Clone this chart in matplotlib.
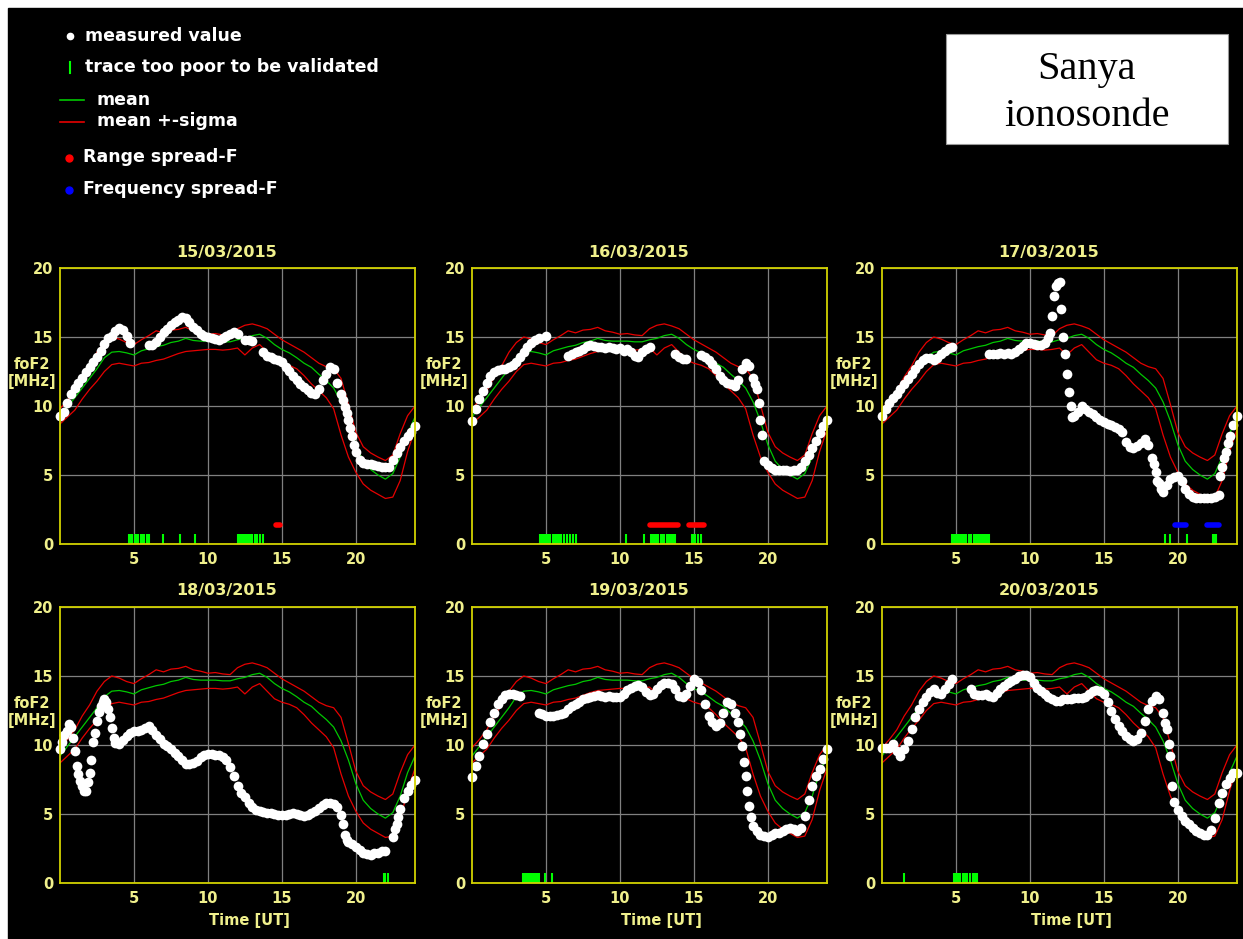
"""
foF2 daily plots for the Sanya ionosonde, 15-20 March 2015.
"""
import numpy as np
import matplotlib
matplotlib.use('Agg')
import matplotlib.pyplot as plt
from matplotlib.patches import Rectangle

nan = np.nan
W, H = 1243, 939

days = ['15/03/2015', '16/03/2015', '17/03/2015',
        '18/03/2015', '19/03/2015', '20/03/2015']

# half-hourly monthly reference (mean and mean +- sigma), MHz
ref_hours = np.arange(0, 24.01, 0.5)
foF2_mean = [9.2, 9.9, 10.6, 11.3, 12.0, 12.7, 13.5, 13.9, 13.95, 13.85,
             13.7, 14.0, 14.15, 14.3, 14.4, 14.6, 14.7, 14.9, 14.75, 14.7,
             14.7, 14.7, 14.65, 14.65, 14.8, 14.9, 15.1, 15.2, 14.9, 14.45,
             14.1, 13.85, 13.5, 13.1, 12.8, 12.3, 11.85, 11.3, 10.3, 8.9,
             7.2, 6.0, 5.4, 5.0, 4.7, 5.1, 6.3, 8.0, 9.2]
foF2_upper = [9.8, 10.4, 11.1, 12.1, 12.9, 13.9, 14.6, 15.0, 14.85, 14.6,
              14.45, 14.8, 15.1, 15.45, 15.3, 15.5, 15.55, 15.7, 15.45, 15.35,
              15.2, 15.25, 15.15, 15.1, 15.6, 15.85, 15.95, 15.8, 15.6, 15.2,
              14.8, 14.5, 14.2, 13.9, 13.5, 13.1, 12.85, 12.7, 12.0, 10.1,
              8.1, 7.05, 6.6, 6.3, 6.05, 6.45, 8.0, 9.3, 10.0]
foF2_lower = [8.7, 9.2, 9.7, 10.5, 11.2, 11.8, 12.5, 13.0, 13.1, 13.0,
              12.9, 13.1, 13.15, 13.3, 13.4, 13.6, 13.8, 13.95, 14.0, 14.05,
              14.1, 14.1, 14.05, 14.1, 14.2, 13.7, 14.2, 14.45, 13.9, 13.35,
              13.1, 12.95, 12.7, 12.2, 11.6, 11.1, 10.6, 9.8, 7.9, 6.3,
              5.2, 4.35, 3.9, 3.6, 3.3, 3.4, 4.6, 6.7, 8.3]

# measured foF2 every 15 min, 00:00 .. 24:00 UT
hours = np.arange(0, 24.01, 0.25)
fof2_15 = [9.3, 9.6, 10.2, 10.85, 11.3, 11.7, 12.05, 12.45,
           12.8, 13.2, 13.55, 14.0, 14.5, 14.9, 15.1, 15.4,
           15.65, 15.5, 15.1, 14.6, nan, nan, nan, nan,
           14.4, 14.4, 14.65, 15.0, 15.35, 15.6, 15.85, 16.1,
           16.2, 16.45, 16.35, 16.1, 15.75, 15.5, 15.25, 15.1,
           15.0, 14.9, 14.85, 14.75, 14.9, 15.05, 15.25, 15.35,
           15.25, nan, 14.75, 14.75, 14.7, nan, nan, 13.9,
           13.65, 13.55, 13.4, 13.3, 13.2, 12.8, 12.55, 12.2,
           11.85, 11.6, 11.35, 11.15, 10.95, 10.85, 11.2, 11.85,
           12.3, 12.8, 12.7, 11.7, 10.85, 9.9, 9.0, 7.8,
           6.7, 6.1, 5.85, 5.8, 5.8, 5.75, 5.65, 5.6,
           5.55, 5.6, 6.1, 6.6, 7.05, 7.45, 7.8, 8.15,
           8.55]
fof2_16 = [8.9, 9.75, 10.5, 11.1, 11.7, 12.15, 12.45, 12.6,
           12.7, 12.7, 12.8, 13.0, 13.2, 13.55, 13.9, 14.25,
           14.6, 14.75, 14.9, nan, 15.1, nan, nan, nan,
           nan, nan, 13.65, 13.8, 13.9, 14.0, 14.15, 14.35,
           14.45, 14.35, 14.25, 14.25, 14.2, 14.25, 14.2, 14.15,
           14.2, 14.0, 14.1, 13.9, 13.65, 13.55, 13.9, 14.15,
           14.25, nan, nan, nan, nan, nan, nan, 13.8,
           13.55, 13.4, 13.4, nan, nan, nan, 13.7, 13.55,
           13.3, 13.05, 12.7, 12.2, 11.85, 11.7, 11.6, 11.45,
           11.85, 12.7, 13.1, 12.9, 12.05, 11.2, 9.0, 6.0,
           5.7, 5.5, 5.35, 5.35, 5.35, 5.35, 5.3, 5.35,
           5.35, 5.6, 6.0, 6.45, 6.95, 7.45, 8.05, 8.55,
           9.0]
fof2_17 = [9.3, 9.75, 10.2, 10.55, 10.85, 11.2, 11.6, 11.95,
           12.3, 12.65, 13.05, 13.35, 13.5, 13.5, 13.35, 13.5,
           13.75, 14.0, 14.2, 14.25, nan, nan, nan, nan,
           nan, nan, nan, nan, nan, 13.8, 13.8, 13.75,
           13.85, 13.75, 13.85, 13.8, 13.9, 14.1, 14.35, 14.55,
           14.6, 14.5, 14.4, 14.4, 14.55, 14.9, 16.5, 18.7,
           19.0, 15.0, 12.3, 10.0, 9.3, 9.6, 10.0, 9.8,
           9.6, 9.4, 9.2, 9.0, 8.85, 8.7, 8.6, 8.5,
           8.3, 8.1, 7.4, 7.0, 6.95, 7.1, 7.35, 7.6,
           7.2, 6.2, 5.2, 4.4, 3.8, 4.3, 4.7, 4.85,
           4.9, 4.6, 4.0, 3.6, 3.4, 3.35, 3.3, 3.3,
           3.3, 3.3, 3.4, 3.55, 5.6, 6.7, 7.8, 8.6,
           9.3]
fof2_18 = [9.7, 10.7, 11.05, 11.3, 9.6, 7.9, 7.05, 6.7,
           8.0, 10.2, 11.75, 12.8, 13.35, 12.6, 11.2, 10.15,
           10.05, 10.35, 10.65, 10.85, 11.0, 11.05, 11.1, 11.2,
           11.4, 11.1, 10.75, 10.4, 10.1, 9.9, 9.7, 9.45,
           9.2, 8.9, 8.65, 8.6, 8.7, 8.85, 9.1, 9.25,
           9.35, 9.35, 9.3, 9.25, 9.1, 8.9, 8.4, 7.75,
           7.05, 6.5, 6.2, 5.8, 5.5, 5.3, 5.2, 5.15,
           5.1, 5.05, 5.0, 4.95, 4.9, 4.95, 5.0, 5.05,
           5.0, 4.9, 4.85, 4.95, 5.05, 5.25, 5.45, 5.65,
           5.8, 5.8, 5.75, 5.5, 4.9, 3.5, 2.95, 2.8,
           2.6, 2.4, 2.2, 2.1, 2.05, 2.15, 2.2, 2.3,
           2.3, nan, 3.3, 4.3, 5.35, 6.15, 6.65, 7.1,
           7.5]
fof2_19 = [7.65, 8.5, 9.2, 10.05, 10.8, 11.65, 12.35, 12.95,
           13.35, 13.6, 13.7, 13.7, 13.6, 13.55, nan, nan,
           nan, nan, 12.35, 12.25, 12.1, 12.1, 12.1, 12.15,
           12.25, 12.35, 12.6, 12.8, 12.95, 13.15, 13.3, 13.4,
           13.45, 13.55, 13.6, 13.55, 13.5, 13.55, 13.5, 13.45,
           13.45, 13.7, 13.95, 14.1, 14.25, 14.35, 14.2, 13.85,
           13.6, 13.7, 14.05, 14.35, 14.5, 14.5, 14.4, 14.05,
           13.55, 13.45, 13.7, 14.3, 14.8, 14.55, 13.95, 12.95,
           12.1, 11.65, 11.4, 11.6, 12.35, 13.1, 12.95, 12.35,
           11.65, 9.95, 7.75, 5.6, 4.1, 3.75, 3.5, 3.4,
           3.3, 3.45, 3.65, 3.65, 3.75, 3.9, 4.0, 3.9,
           3.75, 4.0, 4.85, 6.05, 7.05, 7.75, 8.25, 8.95,
           9.7]
fof2_20 = [9.8, 9.75, 9.8, 10.05, 9.55, 9.2, 9.7, 10.3,
           11.15, 12.0, 12.6, 13.1, 13.45, 13.85, 14.05, 13.8,
           13.7, 14.05, 14.45, 14.75, nan, nan, nan, nan,
           14.05, 13.7, 13.6, 13.6, 13.7, 13.55, 13.5, 13.75,
           14.05, 14.3, 14.5, 14.65, 14.8, 15.0, 15.1, 15.05,
           14.9, 14.5, 14.15, 13.9, 13.7, 13.45, 13.3, 13.2,
           13.2, 13.3, 13.3, 13.35, 13.4, 13.4, 13.4, 13.45,
           13.7, 13.9, 14.0, 13.9, 13.7, 13.1, 12.45, 11.85,
           11.4, 11.0, 10.65, 10.4, 10.3, 10.4, 10.9, 11.75,
           12.6, 13.2, 13.55, 13.3, 12.35, 11.15, 9.2, 5.9,
           5.3, 4.85, 4.5, 4.25, 4.0, 3.8, 3.65, 3.5,
           3.45, 3.85, 4.7, 5.8, 6.55, 7.15, 7.6, 8.0,
           8.0]

# additional 7.5-min soundings during fast changes
extra_h = [
    [19.125, 19.375, 19.625, 19.875],
    [19.125, 19.375, 19.625],
    [11.375, 11.625, 11.875, 12.125, 12.375, 12.625, 12.875,
     18.375, 18.625, 18.875, 22.875, 23.125, 23.375],
    [0.125, 0.625, 0.875, 1.125, 1.375, 1.625, 1.875, 2.125, 2.375,
     2.625, 2.875, 3.125, 3.375, 3.625, 19.125, 19.375, 22.625, 22.875],
    [18.125, 18.375, 18.625, 18.875],
    [19.125, 19.375, 19.625],
]
extra_v = [
    [10.4, 9.5, 8.4, 7.2],
    [11.6, 10.2, 7.9],
    [15.3, 18.0, 18.9, 17.0, 13.8, 11.0, 9.2, 5.8, 4.6, 4.0, 4.9, 6.2, 7.3],
    [10.2, 11.55, 10.5, 8.5, 7.4, 6.7, 7.3, 8.9, 10.9, 12.4, 13.1, 13.1,
     12.0, 10.5, 4.3, 3.1, 3.9, 4.8],
    [10.8, 8.8, 6.7, 4.8],
    [11.6, 10.1, 7.0],
]

# ionograms with a trace too poor to be validated (UT hours)
poor_trace = [
    [4.65, 4.8, 4.9, 5.05, 5.2, 5.3, 5.45, 5.6, 5.7, 5.85, 5.95, 6.05,
     6.96, 8.1, 9.1, 12.05, 12.2, 12.3, 12.45, 12.6, 12.7, 12.85, 13.0,
     13.2, 13.35, 13.55, 13.7],
    [4.6, 4.7, 4.8, 4.9, 5.0, 5.1, 5.2, 5.3, 5.45, 5.55, 5.65, 5.75, 5.9,
     6.05, 6.2, 6.45, 6.65, 6.85, 7.02, 10.4, 11.62, 12.07, 12.23, 12.35,
     12.45, 12.6, 12.75, 12.9, 13.0, 13.15, 13.3, 13.45, 13.6, 13.7,
     14.88, 15.0, 15.1, 15.25, 15.47],
    [4.7, 4.8, 4.9, 5.0, 5.15, 5.25, 5.35, 5.5, 5.6, 5.7, 5.85, 5.95, 6.05,
     6.2, 6.3, 6.4, 6.55, 6.65, 6.75, 6.9, 7.0, 7.1, 7.2, 19.1, 19.5,
     20.6, 22.4, 22.5, 22.6],
    [21.9, 22.0, 22.15],
    [3.45, 3.55, 3.65, 3.75, 3.85, 3.95, 4.05, 4.15, 4.25, 4.35, 4.45,
     4.55, 4.92, 5.44],
    [1.47, 4.9, 5.0, 5.1, 5.2, 5.3, 5.45, 5.55, 5.65, 5.78, 5.96, 6.12,
     6.27, 6.41],
]

# spread-F intervals (start, end UT)
range_spread = [[(14.6, 14.85)], [(12.05, 13.9), (14.7, 15.7)], [], [], [], []]
freq_spread = [[], [], [(19.8, 20.55), (22.0, 22.8)], [(22.5, 22.5)], [], []]

measured = [fof2_15, fof2_16, fof2_17, fof2_18, fof2_19, fof2_20]

TXT = '#f0f08c'
FRAME = '#d2d200'
GREEN = '#00c800'
RED = '#e60000'
TICK_GREEN = '#00ff00'
BLUE = '#0000ff'

fig = plt.figure(figsize=(W / 100, H / 100), dpi=100)
fig.patch.set_facecolor('white')

# full-figure pixel canvas for background, legend and station box
bg = fig.add_axes([0, 0, 1, 1])
bg.set_xlim(0, W)
bg.set_ylim(H, 0)
bg.axis('off')
bg.add_patch(Rectangle((8, 8), W - 8, H - 8, color='black', zorder=0))

leg_kw = dict(color='white', va='center', ha='left', fontsize=12.5,
              fontweight='bold')
bg.plot([70], [36], 'o', ms=4.5, color='white')
bg.text(85, 36, 'measured value', **leg_kw)
bg.plot([70, 70], [62, 73], color=TICK_GREEN, lw=1.5)
bg.text(85, 67, 'trace too poor to be validated', **leg_kw)
bg.plot([60, 84], [100, 100], color=GREEN, lw=1.2)
bg.text(97, 100, 'mean', **leg_kw)
bg.plot([60, 84], [122, 122], color=RED, lw=1.2)
bg.text(97, 121, 'mean +-sigma', **leg_kw)
bg.plot([69], [158], 'o', ms=5, color='red')
bg.text(83, 157, 'Range spread-F', **leg_kw)
bg.plot([69], [190], 'o', ms=5, color=BLUE)
bg.text(83, 189, 'Frequency spread-F', **leg_kw)

bg.add_patch(Rectangle((946, 34), 282, 110, facecolor='white',
                       edgecolor='#999999', lw=0.8))
bg.text(1087, 70, 'Sanya', family='Liberation Serif', fontsize=29,
        ha='center', va='center', color='black')
bg.text(1087, 117, 'ionosonde', family='Liberation Serif', fontsize=29,
        ha='center', va='center', color='black')

lefts = [60, 472, 882]
tops = [268, 607]
pw, ph = 355, 276

for i, day in enumerate(days):
    row, col = divmod(i, 3)
    ax = fig.add_axes([lefts[col] / W, 1 - (tops[row] + ph) / H, pw / W, ph / H])
    ax.set_facecolor('black')
    ax.set_xlim(0, 24)
    ax.set_ylim(0, 20)
    ax.set_xticks([5, 10, 15, 20])
    ax.set_yticks([0, 5, 10, 15, 20])
    ax.set_axisbelow(True)
    ax.grid(True, color='#808080', lw=0.9)
    ax.tick_params(length=0, colors=TXT, labelsize=10.5)
    ax.tick_params(axis='x', pad=6)
    ax.tick_params(axis='y', pad=5)
    for lbl in ax.get_xticklabels() + ax.get_yticklabels():
        lbl.set_fontweight('bold')
    for sp in ax.spines.values():
        sp.set_color(FRAME)
        sp.set_linewidth(1.3)
        sp.set_zorder(5)

    ax.plot(ref_hours, foF2_upper, color=RED, lw=0.9)
    ax.plot(ref_hours, foF2_lower, color=RED, lw=0.9)
    ax.plot(ref_hours, foF2_mean, color=GREEN, lw=0.9)

    ax.vlines(poor_trace[i], 0, 0.75, colors=TICK_GREEN, lw=1.5)
    for a, b in range_spread[i]:
        ax.plot([a, b], [1.4, 1.4], color='red', lw=4, solid_capstyle='round')
    for a, b in freq_spread[i]:
        ax.plot([a, b], [1.4, 1.4], color=BLUE, lw=4, solid_capstyle='round')

    t = np.concatenate([hours, extra_h[i]])
    v = np.concatenate([measured[i], extra_v[i]])
    ax.plot(t, v, 'o', ms=7, color='white', mew=0, clip_on=False, zorder=4)

    ax.text(0.47, 1 + 16 / ph, day, transform=ax.transAxes, ha='center',
            va='center', color=TXT, fontsize=11.5, fontweight='bold')
    ax.text(-0.079, 0.62, 'foF2\n[MHz]', transform=ax.transAxes, ha='center',
            va='center', color=TXT, fontsize=10.5, fontweight='bold',
            linespacing=1.15)
    if row == 1:
        ax.text(0.533, -37 / ph, 'Time [UT]', transform=ax.transAxes,
                ha='center', va='center', color=TXT, fontsize=10.5,
                fontweight='bold')

fig.savefig('out.png', dpi=100)
